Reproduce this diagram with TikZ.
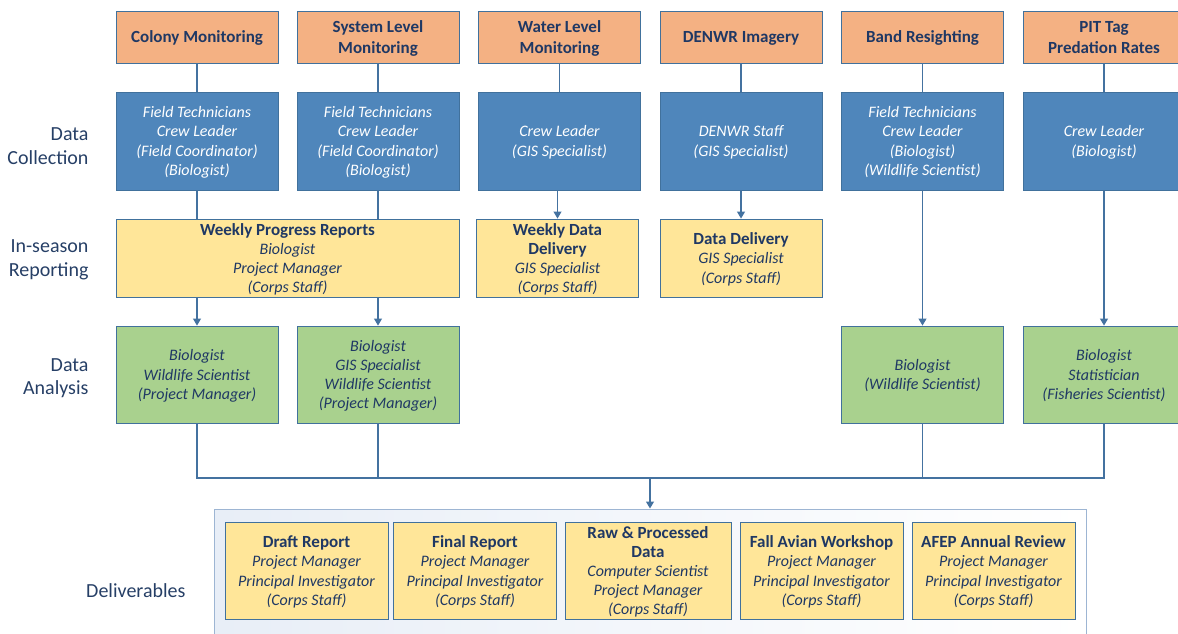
\documentclass[tikz,border=0pt]{standalone}
\usepackage{fontspec}
\setmainfont{Carlito}
\usetikzlibrary{arrows.meta}
\definecolor{navy}{HTML}{1F3864}
\definecolor{lblcol}{HTML}{263F66}
\definecolor{orangefill}{HTML}{F4B183}
\definecolor{bluefill}{HTML}{4F86BB}
\definecolor{yellowfill}{HTML}{FFE699}
\definecolor{greenfill}{HTML}{A9D18E}
\definecolor{edgecol}{HTML}{41719C}
\definecolor{linecol}{HTML}{4472A0}
\definecolor{contedge}{HTML}{9DB5D3}
\definecolor{contfill}{HTML}{E8EEF7}
\tikzset{
  basebox/.style={draw=edgecol, line width=0.9pt, inner sep=0pt, align=center, text depth=-2pt,
    font=\fontsize{16}{19.2}\selectfont\itshape},
  topbox/.style={basebox, fill=orangefill, minimum width=162pt, minimum height=52pt,
    text=navy, font=\fontsize{17}{21}\selectfont\bfseries},
  collbox/.style={basebox, fill=bluefill, minimum width=162pt, minimum height=98pt, text=white},
  repbox/.style={basebox, fill=yellowfill, minimum height=78pt, text=navy},
  anabox/.style={basebox, fill=greenfill, minimum width=162pt, minimum height=97pt, text=navy},
  delbox/.style={basebox, fill=yellowfill, minimum width=163pt, minimum height=97pt, text=navy},
  rowlabel/.style={align=right, anchor=east, text=lblcol, font=\fontsize{20}{23.5}\selectfont},
  conn/.style={draw=linecol, line width=1.1pt},
  arr/.style={conn, -{Triangle[length=7pt,width=8pt]}},
}
\newcommand{\bt}[1]{{\fontsize{17}{19.2}\selectfont\upshape\bfseries #1}}
\begin{document}
\begin{tikzpicture}[x=1pt,y=-1pt]
\useasboundingbox (0,0) rectangle (1178,633);

% container
\node[draw=contedge, line width=1pt, left color=contfill, right color=white,
  minimum width=872pt, minimum height=140pt, inner sep=0pt] (cont) at (650,579) {};

% row labels
\node[rowlabel] (l1) at (92,146) {Data\\Collection};
\node[rowlabel] (l2) at (92,260) {In-season\\Reporting};
\node[rowlabel] (l3) at (92,378) {Data\\Analysis};
\node[rowlabel] (l4) at (189,591) {Deliverables};

% top row
\node[topbox] (t1) at (197,37) {Colony Monitoring};
\node[topbox] (t2) at (378,37) {System Level\\Monitoring};
\node[topbox] (t3) at (559.5,37) {Water Level\\Monitoring};
\node[topbox] (t4) at (741,37) {DENWR Imagery};
\node[topbox] (t5) at (922.5,37) {Band Resighting};
\node[topbox] (t6) at (1104,37) {PIT Tag\\Predation Rates};

% data collection
\node[collbox] (c1) at (197,141) {Field Technicians\\Crew Leader\\(Field Coordinator)\\(Biologist)};
\node[collbox] (c2) at (378,141) {Field Technicians\\Crew Leader\\(Field Coordinator)\\(Biologist)};
\node[collbox] (c3) at (559.5,141) {Crew Leader\\(GIS Specialist)};
\node[collbox] (c4) at (741,141) {DENWR Staff\\(GIS Specialist)};
\node[collbox] (c5) at (922.5,141) {Field Technicians\\Crew Leader\\(Biologist)\\(Wildlife Scientist)};
\node[collbox] (c6) at (1104,141) {Crew Leader\\(Biologist)};

% in-season reporting
\node[repbox, minimum width=343pt] (r12) at (287.5,258) {\bt{Weekly Progress Reports}\\Biologist\\Project Manager\\(Corps Staff)};
\node[repbox, minimum width=162pt] (r3) at (557.5,258) {\bt{Weekly Data}\\\bt{Delivery}\\GIS Specialist\\(Corps Staff)};
\node[repbox, minimum width=162pt] (r4) at (741,258) {\bt{Data Delivery}\\GIS Specialist\\(Corps Staff)};

% data analysis
\node[anabox] (a1) at (197,374.5) {Biologist\\Wildlife Scientist\\(Project Manager)};
\node[anabox] (a2) at (378,374.5) {Biologist\\GIS Specialist\\Wildlife Scientist\\(Project Manager)};
\node[anabox] (a5) at (922.5,374.5) {Biologist\\(Wildlife Scientist)};
\node[anabox] (a6) at (1104,374.5) {Biologist\\Statistician\\(Fisheries Scientist)};

% deliverables
\node[delbox] (d1) at (306.5,570.5) {\bt{Draft Report}\\Project Manager\\Principal Investigator\\(Corps Staff)};
\node[delbox] (d2) at (475,570.5) {\bt{Final Report}\\Project Manager\\Principal Investigator\\(Corps Staff)};
\node[delbox, minimum width=166pt] (d3) at (648,570.5) {\bt{Raw \& Processed}\\\bt{Data}\\Computer Scientist\\Project Manager\\(Corps Staff)};
\node[delbox] (d4) at (821.5,570.5) {\bt{Fall Avian Workshop}\\Project Manager\\Principal Investigator\\(Corps Staff)};
\node[delbox] (d5) at (993.5,570.5) {\bt{AFEP Annual Review}\\Project Manager\\Principal Investigator\\(Corps Staff)};

% connectors top -> collection
\foreach \i in {1,...,6} { \draw[conn] (t\i) -- (c\i); }
% collection -> reporting / analysis
\draw[conn] (c1.south) -- (c1.south |- r12.north);
\draw[conn] (c2.south) -- (c2.south |- r12.north);
\draw[arr] (c3.south -| r3.north) -- (r3.north);
\draw[arr] (c4) -- (r4);
\draw[arr] (c5) -- (a5);
\draw[arr] (c6) -- (a6);
\draw[arr] (r12.south -| a1.north) -- (a1.north);
\draw[arr] (r12.south -| a2.north) -- (a2.north);

% merge
\coordinate (m1) at (197,478);
\coordinate (m6) at (1104,478);
\coordinate (mj) at (650,478);
\draw[conn] (a1.south) -- (m1) -- (m6) -- (a6.south);
\draw[conn] (a2.south) -- (a2.south |- m1);
\draw[conn] (a5.south) -- (a5.south |- m1);
\draw[arr] (mj) -- (cont.north);
\end{tikzpicture}
\end{document}
